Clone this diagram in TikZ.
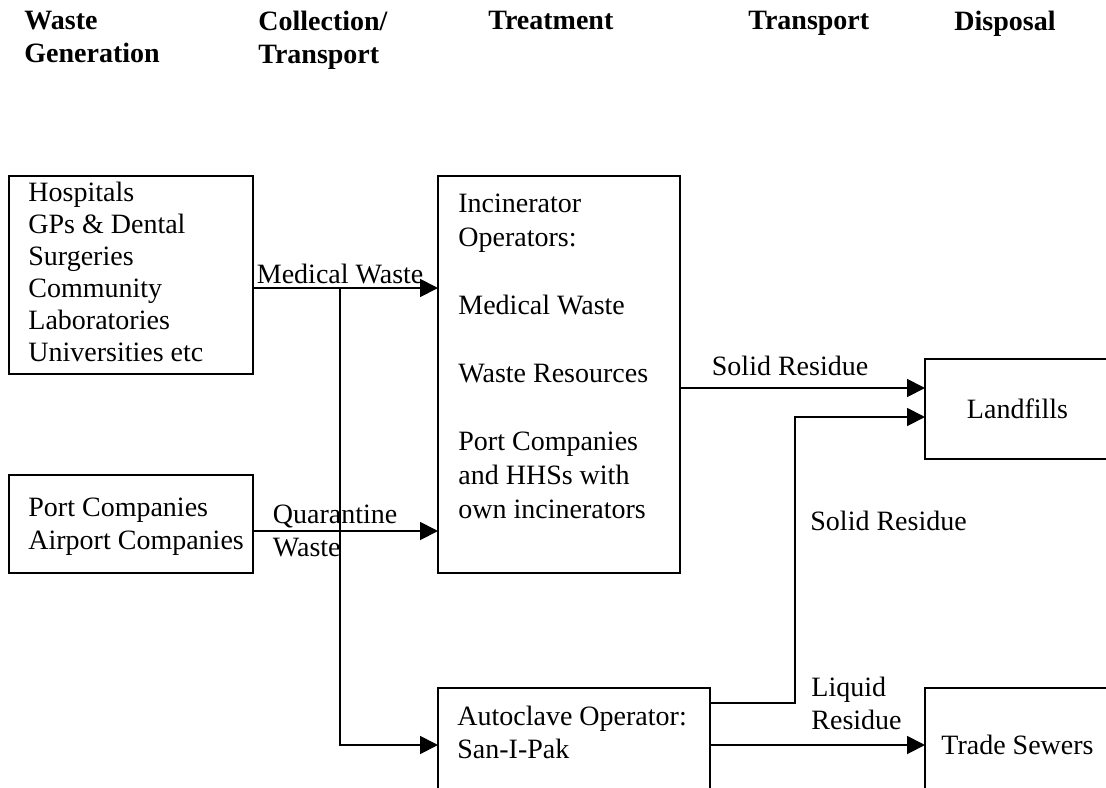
\documentclass[tikz,border=0pt]{standalone}
\usepackage{fontspec}
\setmainfont{Liberation Serif}
\usetikzlibrary{arrows.meta}

\begin{document}
\begin{tikzpicture}[x=0.5pt, y=-0.5pt,
      font=\fontsize{14}{16.5}\selectfont,
      box/.style={draw, line width=0.9pt, anchor=north west, inner sep=0pt, outer sep=0pt},
      txt/.style={anchor=north west, align=left, inner sep=0pt},
      hdr/.style={txt, font=\fontsize{14}{16.5}\selectfont\bfseries},
      arr/.style={-{Triangle[length=9pt, width=9pt]}, line width=0.9pt}]
    \useasboundingbox (0,0) rectangle (1106,787);
    \clip (0,0) rectangle (1106,787);
    % column headings
    \node[hdr] (hgen) at (24,11) {Waste\\Generation};
    \node[hdr] (hcol) at (258,11) {Collection/\\Transport};
    \node[hdr] (htreat) at (488,11) {Treatment};
    \node[hdr] (htrans) at (748,11) {Transport};
    \node[hdr] (hdisp) at (954,11) {Disposal};
    % boxes
    \node[box, minimum width=122pt, minimum height=99pt] (hosp) at (9,176) {};
    \node[txt, font=\fontsize{14}{16}\selectfont] (hosptxt) at (28,182) {Hospitals\\GPs \& Dental\\Surgeries\\Community\\Laboratories\\Universities etc};
    \node[box, minimum width=122pt, minimum height=49pt] (port) at (9,475) {};
    \node[txt] (porttxt) at (28,498) {Port Companies\\Airport Companies};
    \node[box, minimum width=121pt, minimum height=198.5pt] (incin) at (438,176) {};
    \node[txt, font=\fontsize{14}{17}\selectfont] (incintxt) at (458,194)
      {Incinerator\\Operators:\\[17pt]Medical Waste\\[17pt]Waste Resources\\[17pt]Port Companies\\and HHSs with\\own incinerators};
    \node[box, minimum width=92.5pt, minimum height=50pt] (land) at (925,359) {Landfills};
    \node[box, minimum width=136pt, minimum height=57pt] (auto) at (438,688) {};
    \node[txt] (autotxt) at (457,706) {Autoclave Operator:\\San-I-Pak};
    \node[box, minimum width=92.5pt, minimum height=57pt] (sewer) at (925,688) {Trade Sewers};
    % connectors
    \coordinate (mw) at (340,288);
    \coordinate (qw) at (340,531);
    \coordinate (sr) at (680,388);
    \coordinate (ao) at (795,703);
    \coordinate (rise) at (795,417);
    \draw[arr] (mw -| hosp.east) -- node[pos=0, anchor=south west, inner sep=1.5pt]{Medical Waste} (mw -| incin.west);
    \draw[arr] (mw) |- (auto.west);
    \draw[arr] (qw -| port.east) -- node[pos=0, anchor=west, align=left, xshift=9.5pt, inner sep=0pt]{Quarantine\\Waste} (qw -| incin.west);
    \draw[arr] (sr -| incin.east) -- node[pos=0, anchor=base west, xshift=15.5pt, yshift=6.5pt, inner sep=0pt]{Solid Residue} (sr -| land.west);
    \draw[arr] (ao -| auto.east) -- (ao) -- (rise) -- (rise -| land.west);
    \draw[arr] (auto.east) -- (sewer.west);
    \node[txt, anchor=base west] (srlbl) at (810,530) {Solid Residue};
    \node[txt] (lrlbl) at (811,677) {Liquid\\Residue};
  \end{tikzpicture}
\end{document}
